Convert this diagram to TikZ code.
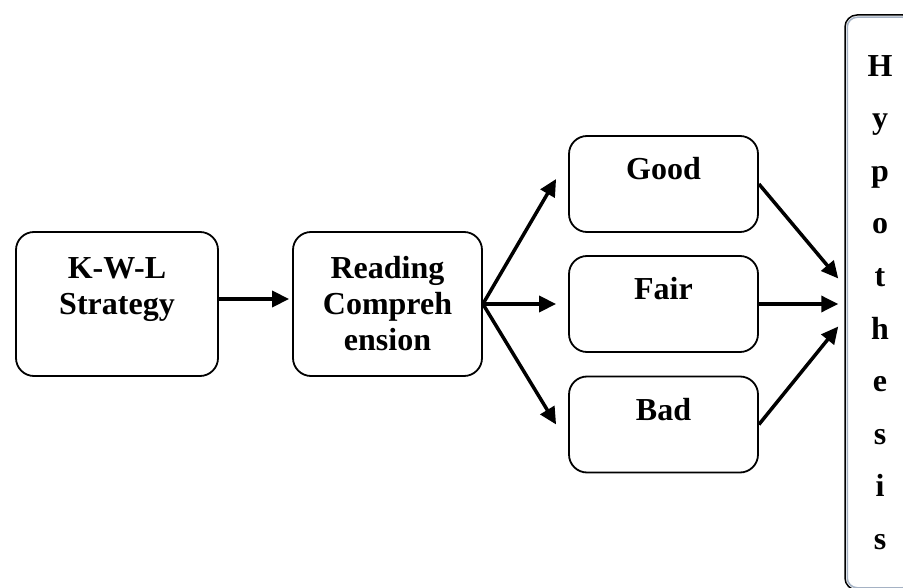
\documentclass[tikz,border=0pt]{standalone}
\usepackage{fontspec}
\setmainfont{Liberation Serif}
\usetikzlibrary{arrows.meta,positioning}
\definecolor{hypgray}{RGB}{165,178,196}
\tikzstyle{arrow} = [line width=3.5pt,-{Triangle[length=17pt,width=16pt]}]
\tikzstyle{stage} = [draw, line width=1.8pt, rounded corners=18pt, align=center, font=\bfseries\fontsize{32}{36}\selectfont]
\tikzstyle{level} = [stage, minimum width=189pt, minimum height=96pt, text height=22pt, text depth=30pt]

\begin{document}
\begin{tikzpicture}[x=1pt,y=1pt]
\useasboundingbox (0,0) rectangle (903,-588);
% Stages
\node[stage, minimum width=202pt, minimum height=144pt, text height=60pt, text depth=38pt] (kwl) at (117,-304) {K-W-L\\Strategy};
\node[stage, minimum width=189pt, minimum height=144pt] (rc) at (387.5,-304) {Reading\\Compreh\\ension};

% Results
\node[level] (good) at (663.5,-184) {Good};
\node[level] (fair) at (663.5,-304) {Fair};
\node[level] (bad) at (663.5,-424.5) {Bad};

% Hypothesis
\node[draw, line width=1.5pt, rounded corners=12pt, minimum width=70pt, minimum height=575pt, align=center, font=\bfseries\fontsize{32}{52.6}\selectfont] (hyp) at (880,-302.5) {H\\y\\p\\o\\t\\h\\e\\s\\i\\s};
\draw[hypgray, line width=1.5pt, rounded corners=10pt] ([shift={(3pt,-3pt)}]hyp.north west) rectangle ([shift={(-3pt,3pt)}]hyp.south east);

% Arrows
\draw[arrow] ([yshift=5pt]kwl.east) -- ([shift={(-3pt,5pt)}]rc.west);
\draw[arrow] (rc.east) -- ([shift={(-12pt,5pt)}]good.west);
\draw[arrow] (rc.east) -- ([xshift=-12pt]fair.west);
\draw[arrow] (rc.east) -- ([xshift=-12pt]bad.west);
\draw[arrow] (good.east) -- ([shift={(-6pt,24pt)}]hyp.west);
\draw[arrow] (fair.east) -- ([xshift=-6pt]hyp.west |- fair.east);
\draw[arrow] (bad.east) -- ([shift={(-6pt,-24pt)}]hyp.west);
\end{tikzpicture}
\end{document}
